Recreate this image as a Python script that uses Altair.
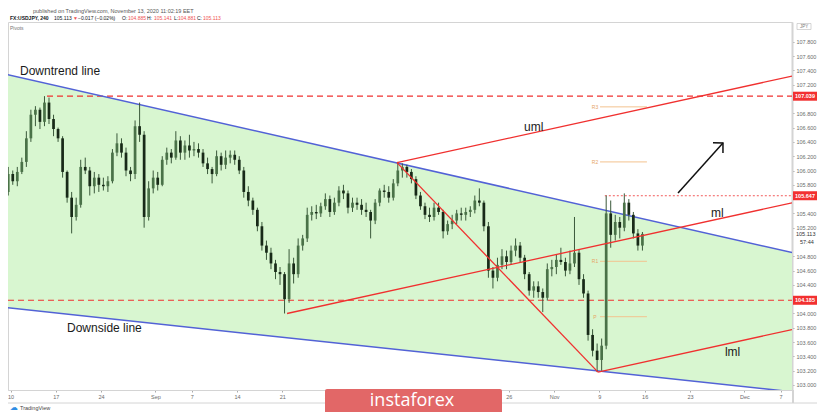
import altair as alt
import pandas as pd

# ---------------- data ----------------
# trading-day index: 0 = Mon 10 Aug 2020 (weekends skipped); two 12h candles per day, from Fri 7 Aug
first_day = -1
first_open = 105.55
highs = [
    105.75, 106.05, 106.00, 106.05, 106.18, 106.55, 106.85, 106.90, 106.88, 107.04,
    107.02, 106.78, 106.60, 106.48, 106.00, 105.70, 105.62, 106.15, 106.18, 106.05,
    105.98, 105.95, 105.90, 105.92, 106.30, 106.52, 106.45, 106.32, 106.05, 106.70,
    106.95, 106.55, 105.85, 106.00, 105.98, 106.20, 106.32, 106.30, 106.55, 106.48,
    106.42, 106.50, 106.40, 106.38, 106.30, 106.18, 106.05, 106.28, 106.25, 106.28,
    106.28, 106.28, 106.20, 106.05, 105.78, 105.62, 105.48, 105.28, 105.02, 104.92,
    104.75, 104.65, 104.58, 104.90, 104.78, 105.05, 105.10, 105.48, 105.50, 105.52,
    105.55, 105.68, 105.65, 105.62, 105.78, 105.80, 105.72, 105.62, 105.62, 105.60,
    105.55, 105.45, 105.60, 105.75, 105.80, 105.78, 105.88, 106.12, 106.10, 106.08,
    106.02, 105.92, 105.70, 105.55, 105.48, 105.55, 105.55, 105.45, 105.30, 105.38,
    105.45, 105.48, 105.48, 105.50, 105.65, 105.75, 105.58, 105.28, 104.65, 104.78,
    104.90, 104.88, 104.95, 105.05, 105.00, 104.82, 104.58, 104.45, 104.45, 104.35,
    104.70, 104.75, 104.82, 104.92, 104.78, 104.88, 105.35, 104.90, 104.55, 104.32,
    103.78, 103.58, 103.65, 105.65, 105.58, 105.38, 105.35, 105.68, 105.60, 105.42,
    105.18, 105.14]
lows = [
    105.50, 105.65, 105.80, 105.78, 105.95, 106.05, 106.40, 106.62, 106.58, 106.62,
    106.65, 106.48, 106.40, 105.90, 105.55, 105.12, 105.30, 105.48, 105.95, 105.65,
    105.68, 105.70, 105.72, 105.70, 105.82, 106.20, 106.18, 105.92, 105.85, 105.88,
    106.40, 105.20, 105.30, 105.68, 105.72, 105.78, 106.08, 106.10, 106.15, 106.15,
    106.15, 106.18, 106.20, 106.18, 106.05, 105.95, 105.82, 105.92, 106.00, 106.02,
    106.10, 106.08, 105.95, 105.62, 105.50, 105.38, 105.15, 104.88, 104.75, 104.62,
    104.48, 104.40, 104.00, 104.15, 104.42, 104.50, 104.88, 105.00, 105.30, 105.32,
    105.35, 105.45, 105.35, 105.38, 105.50, 105.60, 105.40, 105.42, 105.45, 105.38,
    105.35, 105.05, 105.25, 105.50, 105.62, 105.55, 105.58, 105.78, 105.90, 105.90,
    105.82, 105.60, 105.45, 105.32, 105.28, 105.30, 105.38, 105.05, 105.10, 105.18,
    105.25, 105.30, 105.30, 105.35, 105.40, 105.50, 105.15, 104.50, 104.35, 104.45,
    104.62, 104.62, 104.68, 104.80, 104.72, 104.48, 104.25, 104.22, 104.22, 104.02,
    104.18, 104.52, 104.55, 104.68, 104.52, 104.55, 104.65, 104.40, 104.22, 103.62,
    103.40, 103.18, 103.20, 103.50, 104.92, 105.02, 105.05, 105.15, 105.30, 105.05,
    104.88, 104.88]
closes = [
    105.70, 105.95, 105.85, 105.98, 106.12, 106.45, 106.78, 106.85, 106.68, 106.95,
    106.72, 106.58, 106.45, 105.98, 105.62, 105.35, 105.52, 106.05, 106.00, 105.78,
    105.90, 105.80, 105.78, 105.85, 106.25, 106.38, 106.25, 106.00, 105.95, 106.62,
    106.50, 105.35, 105.75, 105.90, 105.80, 106.15, 106.25, 106.18, 106.42, 106.25,
    106.35, 106.28, 106.30, 106.25, 106.10, 106.02, 105.95, 106.20, 106.08, 106.18,
    106.22, 106.15, 106.00, 105.70, 105.58, 105.45, 105.22, 104.95, 104.85, 104.70,
    104.58, 104.55, 104.20, 104.70, 104.55, 104.95, 105.05, 105.38, 105.42, 105.40,
    105.50, 105.60, 105.42, 105.55, 105.72, 105.68, 105.48, 105.55, 105.52, 105.45,
    105.42, 105.30, 105.55, 105.72, 105.70, 105.62, 105.82, 106.00, 106.05, 105.98,
    105.88, 105.65, 105.50, 105.38, 105.35, 105.48, 105.42, 105.15, 105.25, 105.30,
    105.40, 105.38, 105.42, 105.45, 105.58, 105.55, 105.22, 104.60, 104.50, 104.68,
    104.80, 104.72, 104.88, 104.95, 104.78, 104.55, 104.32, 104.38, 104.30, 104.22,
    104.62, 104.65, 104.75, 104.72, 104.60, 104.70, 104.85, 104.48, 104.28, 103.70,
    103.48, 103.35, 103.55, 105.40, 105.10, 105.28, 105.20, 105.55, 105.38, 105.12,
    104.95, 105.113]

# x-axis ticks (trading-day index) and labels (labels hidden under the badge are omitted)
x_tick_days = [0, 5, 10, 16, 20, 25, 30, 35, 55, 60, 65, 70, 75, 81, 85]
x_tick_labels = ["10", "17", "24", "Sep", "7", "14", "21", "28",
                 "26", "Nov", "9", "16", "23", "Dec", "7"]
# price-axis ticks (those covered by price tags are omitted)
y_ticks = [103.0, 103.2, 103.4, 103.6, 103.8, 104.0, 104.4, 104.6, 104.8,
           105.2, 105.4, 105.8, 106.0, 106.2, 106.4, 106.6, 106.8,
           107.2, 107.4, 107.6, 107.8]

# channel (Downtrend line on top, Downside line at bottom)
channel_days = [-1.16, 86.81]
downtrend_prices = [107.364, 104.836]
downside_prices = [104.091, 102.898]

# pitchfork pivots: Sep 21 low, Oct 7 high, Nov 6 low
pivot_days = [30.52, 42.66, 64.85]
pivot_prices = [104.00, 106.11, 103.18]

# horizontal key levels
level_prices = [107.039, 104.185, 105.647]
level_start_days = [4.03, -0.28, 65.6]

# weekly pivot points
pp_labels = ["R3", "R2", "R1", "P"]
pp_prices = [106.89, 106.12, 104.73, 103.955]
pp_days = [65.07, 70.25]

# arrow (tail, tip) and head arms
arrow_days = [73.68, 78.64]
arrow_prices = [105.685, 106.385]
arrow_arm_days = [77.54, 78.64]
arrow_arm_prices = [106.389, 106.245]

# annotations
ann_texts = ["Downtrend line", "Downside line", "uml", "ml", "lml"]
ann_days = [1.05, 6.24, 56.68, 77.32, 78.86]
ann_prices = [107.392, 103.797, 106.608, 105.406, 103.462]

last_price = 105.113

# ---------------- layout / styling ----------------
X_DOMAIN = [-0.276, 86.26]
Y_DOMAIN = [102.93, 108.077]
W, H = 784, 368
FONT = "Liberation Sans"
RED = "#f0302f"
BLUE = "#5262d6"
FILL = "#d8f6d0"
UP, DOWN, WICK = "#4a7248", "#182a18", "#3a583a"

label_expr = ""
for d, lab in zip(x_tick_days, x_tick_labels):
    label_expr += f"datum.value == {d} ? '{lab}' : "
label_expr += "''"

xs = alt.Scale(domain=X_DOMAIN, nice=False, zero=False)
ys = alt.Scale(domain=Y_DOMAIN, nice=False, zero=False)
x_axis = alt.Axis(values=x_tick_days, labelExpr=label_expr, title=None, grid=False,
                  labelFontSize=5.5, labelColor="#6b6b6b", labelFont=FONT, tickSize=2,
                  tickColor="#aaaaaa", domainColor="#d4d4d4", labelPadding=2,
                  labelOverlap=False, labelFlush=False)
y_axis = alt.Axis(orient="right", values=y_ticks, format=".3f", title=None, grid=False,
                  labelFontSize=5.5, labelColor="#6b6b6b", labelFont=FONT, tickSize=2,
                  tickColor="#aaaaaa", domainColor="#d4d4d4", domainWidth=2,
                  labelPadding=2, labelOverlap=False, labelFlush=False)


def X(f):
    return alt.X(f, type="quantitative", scale=xs, axis=x_axis)


def Y(f):
    return alt.Y(f, type="quantitative", scale=ys, axis=y_axis)


one = alt.Data(values=[{"a": 1}])

# candles
rows = []
prev = first_open
for i, (h, l, c) in enumerate(zip(highs, lows, closes)):
    d = first_day + i // 2
    ctr = d + 0.25 + 0.5 * (i % 2)
    rows.append({"c": ctr, "x0": ctr - 0.15, "x1": ctr + 0.15, "o": prev, "h": h,
                 "l": l, "cl": c, "dir": "up" if c >= prev else "down"})
    prev = c
candles = pd.DataFrame(rows)

channel = pd.DataFrame({"d": channel_days, "top": downtrend_prices, "bot": downside_prices})

A, B, C = list(zip(pivot_days, pivot_prices))
M = ((B[0] + C[0]) / 2, (B[1] + C[1]) / 2)
slope = (M[1] - A[1]) / (M[0] - A[0])
xe = X_DOMAIN[1]
fork = pd.DataFrame([
    {"d": A[0], "p": A[1], "d2": xe, "p2": A[1] + slope * (xe - A[0])},
    {"d": B[0], "p": B[1], "d2": xe, "p2": B[1] + slope * (xe - B[0])},
    {"d": C[0], "p": C[1], "d2": xe, "p2": C[1] + slope * (xe - C[0])},
    {"d": B[0], "p": B[1], "d2": C[0], "p2": C[1]},
])

levels = pd.DataFrame({"p": level_prices, "d": level_start_days, "d2": xe,
                       "lab": [f"{v:.3f}" for v in level_prices]})
pp = pd.DataFrame({"lab": pp_labels, "p": pp_prices, "d": pp_days[0], "d2": pp_days[1],
                   "dl": pp_days[0] - 0.55})

arrow = pd.DataFrame([
    {"g": 0, "o": 0, "d": arrow_days[0], "p": arrow_prices[0]},
    {"g": 0, "o": 1, "d": arrow_days[1], "p": arrow_prices[1]},
    {"g": 1, "o": 0, "d": arrow_arm_days[0], "p": arrow_arm_prices[0]},
    {"g": 1, "o": 1, "d": arrow_days[1], "p": arrow_prices[1]},
    {"g": 1, "o": 2, "d": arrow_arm_days[1], "p": arrow_arm_prices[1]},
])
ann = pd.DataFrame({"t": ann_texts, "d": ann_days, "p": ann_prices})

layers = []
layers.append(alt.Chart(channel).mark_area(color=FILL, clip=True).encode(
    x=X("d"), y=Y("bot"), y2=alt.Y2("top")))
layers.append(alt.Chart(pp).mark_rule(color="#f3c38f", strokeWidth=1, clip=True).encode(
    x=X("d"), x2=alt.X2("d2"), y=Y("p")))
layers.append(alt.Chart(pp).mark_text(color="#e6a566", fontSize=5, font=FONT).encode(
    x=X("dl"), y=Y("p"), text="lab"))
layers.append(alt.Chart(levels.iloc[:2]).mark_rule(color=RED, strokeWidth=1.2,
                                                  strokeDash=[6, 4], clip=True).encode(
    x=X("d"), x2=alt.X2("d2"), y=Y("p")))
layers.append(alt.Chart(levels.iloc[2:]).mark_rule(color="#f25a5a", strokeWidth=1,
                                                  strokeDash=[2, 2], clip=True).encode(
    x=X("d"), x2=alt.X2("d2"), y=Y("p")))
layers.append(alt.Chart(channel).mark_line(color=BLUE, strokeWidth=1.5, clip=True).encode(
    x=X("d"), y=Y("top")))
layers.append(alt.Chart(channel).mark_line(color=BLUE, strokeWidth=1.5, clip=True).encode(
    x=X("d"), y=Y("bot")))
layers.append(alt.Chart(candles).mark_rule(color=WICK, strokeWidth=1, clip=True).encode(
    x=X("c"), y=Y("l"), y2=alt.Y2("h")))
layers.append(alt.Chart(candles).mark_bar(clip=True).encode(
    x=X("x0"), x2=alt.X2("x1"), y=Y("o"), y2=alt.Y2("cl"),
    color=alt.Color("dir:N", scale=alt.Scale(domain=["up", "down"], range=[UP, DOWN]),
                    legend=None)))
layers.append(alt.Chart(fork).mark_rule(color=RED, strokeWidth=1.3, clip=True).encode(
    x=X("d"), x2=alt.X2("d2"), y=Y("p"), y2=alt.Y2("p2")))
layers.append(alt.Chart(arrow).mark_line(color="#111111", strokeWidth=1.5).encode(
    x=X("d"), y=Y("p"), detail="g:N", order="o:Q"))
layers.append(alt.Chart(ann).mark_text(align="left", baseline="middle", fontSize=12,
                                       font=FONT, color="#1a1a1a").encode(
    x=X("d"), y=Y("p"), text="t"))

# right price-axis tags for key levels
layers.append(alt.Chart(levels).mark_rule(color="#f23030", strokeWidth=9).encode(
    x=alt.value(785), x2=alt.value(809), y=Y("p")))
layers.append(alt.Chart(levels).mark_text(color="white", fontSize=5.5, fontWeight="bold",
                                          font=FONT).encode(
    x=alt.value(797), y=Y("p"), text="lab"))
lp = pd.DataFrame({"p": [last_price], "lab": [f"{last_price:.3f}"], "cd": ["57:44"]})
layers.append(alt.Chart(lp).mark_text(color="#333333", fontSize=5.5, align="left",
                                      font=FONT).encode(
    x=alt.value(788), y=Y("p"), text="lab"))
layers.append(alt.Chart(lp).mark_text(color="#333333", fontSize=5.5, align="left", dy=8.5,
                                      font=FONT).encode(
    x=alt.value(792), y=Y("p"), text="cd"))


# header & decorations (pixel positions relative to the plot area)
def txt(s, x, y, size=5, color="#131722", weight="normal", align="left", font=FONT):
    return alt.Chart(one).mark_text(text=s, fontSize=size, color=color, fontWeight=weight,
                                    align=align, baseline="middle", font=font).encode(
        x=alt.value(x), y=alt.value(y))


layers.append(txt("published on TradingView.com, November 13, 2020 11:02:19 EET", 25, -11.5,
                  size=5.5, color="#555555"))
hdr_red = "#ef5350"
for s, x, col, w in [("FX:USDJPY, 240", 2, "#131722", "bold"), ("105.113", 46, "#131722", "normal"),
                     ("▼", 65, hdr_red, "normal"), ("−0.017 (−0.02%)", 70, "#131722", "normal"),
                     ("O:", 114, "#131722", "normal"), ("104.885", 120, hdr_red, "normal"),
                     ("H:", 139, "#131722", "normal"), ("105.141", 146, hdr_red, "normal"),
                     ("L:", 166, "#131722", "normal"), ("104.881", 170, hdr_red, "normal"),
                     ("C:", 189, "#131722", "normal"), ("105.113", 195, hdr_red, "normal")]:
    layers.append(txt(s, x, -4.5, size=5, color=col, weight=w))
layers.append(txt("Pivots", 2, 5.5, size=5, color="#777777"))

# JPY box on price axis
layers.append(alt.Chart(one).mark_rect(fill="white", stroke="#bbbbbb", strokeWidth=0.6).encode(
    x=alt.value(789), x2=alt.value(803), y=alt.value(1.5), y2=alt.value(7.5)))
layers.append(txt("JPY", 796, 4.5, size=4.5, color="#777777", align="center"))

# bottom axis band border
layers.append(alt.Chart(one).mark_rule(color="#d4d4d4", strokeWidth=1).encode(
    x=alt.value(0), x2=alt.value(809), y=alt.value(381)))
layers.append(alt.Chart(one).mark_rule(color="#d4d4d4", strokeWidth=2).encode(
    x=alt.value(785), y=alt.value(368), y2=alt.value(381)))

# TradingView mark
layers.append(txt("☁", 2, 385.5, size=8, color="#2f8de4", font="DejaVu Sans"))
layers.append(txt("TradingView", 12, 386, size=5.5, color="#444444"))

# instaforex badge
layers.append(alt.Chart(one).mark_rect(fill="#e26767", cornerRadius=2).encode(
    x=alt.value(317), x2=alt.value(494), y=alt.value(367), y2=alt.value(396)))
layers.append(txt("instaforex", 404, 378.5, size=18, color="white", align="center",
                  font="Open Sans"))

chart = alt.layer(*layers).properties(
    width=W, height=H,
    padding={"left": 0, "top": 14, "right": 25, "bottom": 22},
    autosize=alt.AutoSizeParams(type="none"),
).configure_view(stroke="#d4d4d4")

chart.save("out.html", embed_options={"renderer": "svg", "actions": False})
